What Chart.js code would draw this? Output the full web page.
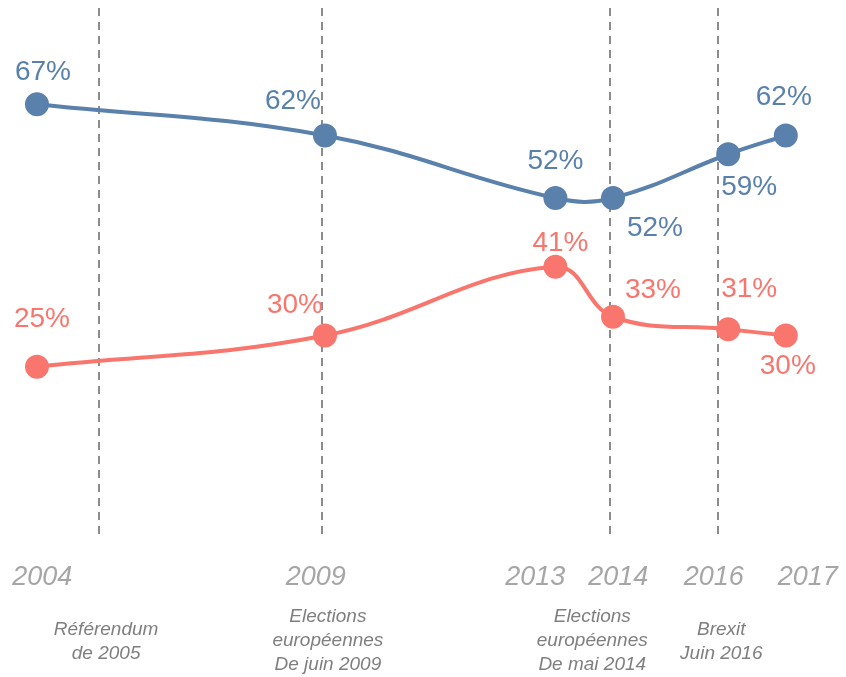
<!DOCTYPE html>
<html>
<head>
<meta charset="utf-8">
<script src="https://cdn.jsdelivr.net/npm/chart.js@4/dist/chart.umd.min.js"></script>
<style>
  html, body { margin: 0; padding: 0; background: #fff; }
  #wrap { width: 846px; height: 677px; }
</style>
</head>
<body>
<div id="wrap"><canvas id="myChart" width="846" height="677"></canvas></div>
<script>
const years = [2004, 2009, 2013, 2014, 2016, 2017];
const blueValues = [67, 62, 52, 52, 59, 62];
const redValues = [25, 30, 41, 33, 31, 30];

const tickLabels = ["2004", "2009", "2013", "2014", "2016", "2017"];
const tickAt = [2004.09, 2008.84, 2012.65, 2014.09, 2015.75, 2017.38];

const eventAt = [2005.08, 2008.95, 2013.95, 2015.82];
const eventLabels = [
  ["Référendum", "de 2005"],
  ["Elections", "européennes", "De juin 2009"],
  ["Elections", "européennes", "De mai 2014"],
  ["Brexit", "Juin 2016"],
];
const eventLabelAt = [2005.2, 2009.05, 2013.64, 2015.88];

// label offsets from the point (px)
const blueOffsets = [[6, -32], [-32, -34], [0, -37], [42, 30], [21, 33], [-2, -38]];
const redOffsets = [[5, -47], [-30, -30], [5, -23], [40, -26], [21, -40], [2, 31]];

const blueColor = "#5A81AC";
const redColor = "#F8766D";

window.addEventListener("DOMContentLoaded", () => {
  const toPoints = (vals) => vals.map((v, i) => ({ x: years[i], y: v }));

  const eventLines = {
    id: "eventLines",
    beforeDatasetsDraw: (chart) => {
      const ctx = chart.ctx;
      const x = chart.scales.x;
      const area = chart.chartArea;
      ctx.save();
      ctx.strokeStyle = "#8C8C8C";
      ctx.lineWidth = 2;
      ctx.setLineDash([8, 6]);
      eventAt.forEach((v) => {
        const px = Math.round(x.getPixelForValue(v));
        ctx.beginPath();
        ctx.moveTo(px, area.top);
        ctx.lineTo(px, area.bottom);
        ctx.stroke();
      });
      ctx.restore();
    },
    afterDraw: (chart) => {
      const ctx = chart.ctx;
      const x = chart.scales.x;
      const area = chart.chartArea;
      ctx.save();
      ctx.textAlign = "center";
      ctx.textBaseline = "middle";
      ctx.fillStyle = "#A6A6A6";
      ctx.font = "italic 27px 'Liberation Sans', Arial, sans-serif";
      tickLabels.forEach((t, i) => {
        ctx.fillText(t, x.getPixelForValue(tickAt[i]), area.bottom + 37);
      });
      ctx.fillStyle = "#7F7F7F";
      ctx.font = "italic 19px 'Liberation Sans', Arial, sans-serif";
      eventLabels.forEach((lines, i) => {
        const top = lines.length === 3 ? area.bottom + 77 : area.bottom + 90;
        lines.forEach((l, j) => {
          ctx.fillText(l, x.getPixelForValue(eventLabelAt[i]), top + j * 24);
        });
      });
      ctx.restore();
    },
  };

  const valueLabels = {
    id: "valueLabels",
    afterDatasetsDraw: (chart) => {
      const ctx = chart.ctx;
      ctx.save();
      ctx.textAlign = "center";
      ctx.textBaseline = "middle";
      ctx.font = "28px 'Liberation Sans', Arial, sans-serif";
      chart.data.datasets.forEach((ds, d) => {
        const meta = chart.getDatasetMeta(d);
        const offs = d === 0 ? blueOffsets : redOffsets;
        ctx.fillStyle = ds.borderColor;
        meta.data.forEach((pt, i) => {
          ctx.fillText(ds.data[i].y + "%", pt.x + offs[i][0], pt.y + offs[i][1]);
        });
      });
      ctx.restore();
    },
  };

  const ctx = document.getElementById("myChart").getContext("2d");
  const myChart = new Chart(ctx, {
    type: "line",
    data: {
      datasets: [
        {
          label: "blue",
          data: toPoints(blueValues),
          borderColor: blueColor,
          backgroundColor: blueColor,
          borderWidth: 4,
          pointRadius: 10,
          pointHoverRadius: 10,
          tension: 0.4,
        },
        {
          label: "red",
          data: toPoints(redValues),
          borderColor: redColor,
          backgroundColor: redColor,
          borderWidth: 4,
          pointRadius: 10,
          pointHoverRadius: 10,
          tension: 0.4,
        },
      ],
    },
    options: {
      responsive: false,
      animation: false,
      layout: { autoPadding: false, padding: { top: 8, bottom: 137, left: 0, right: 0 } },
      plugins: {
        legend: { display: false },
        tooltip: { enabled: false },
      },
      scales: {
        x: {
          type: "linear",
          min: 2003.358,
          max: 2018.045,
          display: false,
        },
        y: {
          min: -2.72,
          max: 82.4,
          display: false,
        },
      },
    },
    plugins: [eventLines, valueLabels],
  });
});
</script>
</body>
</html>
